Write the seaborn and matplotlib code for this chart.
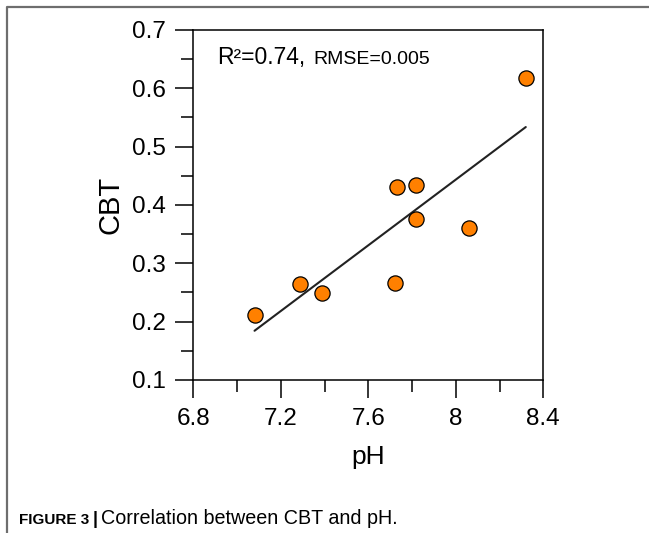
import matplotlib
matplotlib.use('Agg')
import matplotlib.pyplot as plt
from matplotlib.lines import Line2D
from matplotlib.ticker import MultipleLocator
import seaborn as sns
import pandas as pd

# values
ph = [7.08, 7.29, 7.39, 7.72, 7.73, 7.82, 7.82, 8.06, 8.32]
cbt = [0.212, 0.265, 0.249, 0.266, 0.430, 0.435, 0.376, 0.361, 0.617]
x_ticks = [6.8, 7.2, 7.6, 8.0, 8.4]
x_tick_labels = ['6.8', '7.2', '7.6', '8', '8.4']
y_ticks = [0.1, 0.2, 0.3, 0.4, 0.5, 0.6, 0.7]

data = pd.DataFrame({'pH': ph, 'CBT': cbt})

sns.set_style('ticks')
plt.rcParams['font.family'] = ['Liberation Sans', 'DejaVu Sans']
plt.rcParams['text.color'] = 'black'
plt.rcParams['axes.labelcolor'] = 'black'

fig = plt.figure(figsize=(6.49, 5.33), dpi=100)
ax = fig.add_axes([0.2978, 0.2871, 0.5393, 0.6567])

sns.regplot(data=data, x='pH', y='CBT', ax=ax, ci=None,
            scatter_kws={'s': 120, 'color': '#ff8000', 'edgecolor': 'black',
                         'linewidths': 0.9, 'alpha': 1, 'zorder': 3},
            line_kws={'color': '#222222', 'linewidth': 1.5, 'zorder': 2})

ax.set_xlim(6.8, 8.4)
ax.set_ylim(0.1, 0.7)
ax.set_xticks(x_ticks)
ax.set_xticklabels(x_tick_labels)
ax.set_yticks(y_ticks)
ax.xaxis.set_minor_locator(MultipleLocator(0.2))
ax.yaxis.set_minor_locator(MultipleLocator(0.05))

for side in ['top', 'right', 'bottom', 'left']:
    ax.spines[side].set_visible(True)
    ax.spines[side].set_color('black')
    ax.spines[side].set_linewidth(1.1)

ax.tick_params(which='major', direction='out', length=13, width=1.1,
               labelsize=17.5, pad=7, colors='black')
ax.tick_params(which='minor', direction='out', length=8.5, width=1.1, colors='black')
ax.tick_params(top=False, right=False, which='both')

ax.set_xlabel('pH', fontsize=19)
ax.set_ylabel('CBT', fontsize=21)
ax.xaxis.set_label_coords(0.5, -0.185)
ax.yaxis.set_label_coords(-0.197, 0.5)

ax.text(0.067, 0.903, 'R\u00b2=0.74,', transform=ax.transAxes, fontsize=16.5,
        va='baseline', ha='left')
ax.text(0.342, 0.903, 'RMSE=0.005', transform=ax.transAxes, fontsize=14,
        va='baseline', ha='left')

# page frame around the figure
fig.add_artist(Line2D([7 / 649, 7 / 649, 1.0], [0.0, 1 - 7 / 533, 1 - 7 / 533],
                      transform=fig.transFigure, color='#6e6e6e', linewidth=1.6))

# caption
cap_y = 1 - 524 / 533
fig.text(19 / 649, cap_y, 'FIGURE 3', fontsize=11, fontweight='bold',
         va='baseline', ha='left')
fig.text(93 / 649, cap_y, '|', fontsize=13, fontweight='bold',
         va='baseline', ha='left')
fig.text(101 / 649, cap_y, 'Correlation between CBT and pH.', fontsize=14.2,
         va='baseline', ha='left')

fig.savefig('out.png', dpi=100)
